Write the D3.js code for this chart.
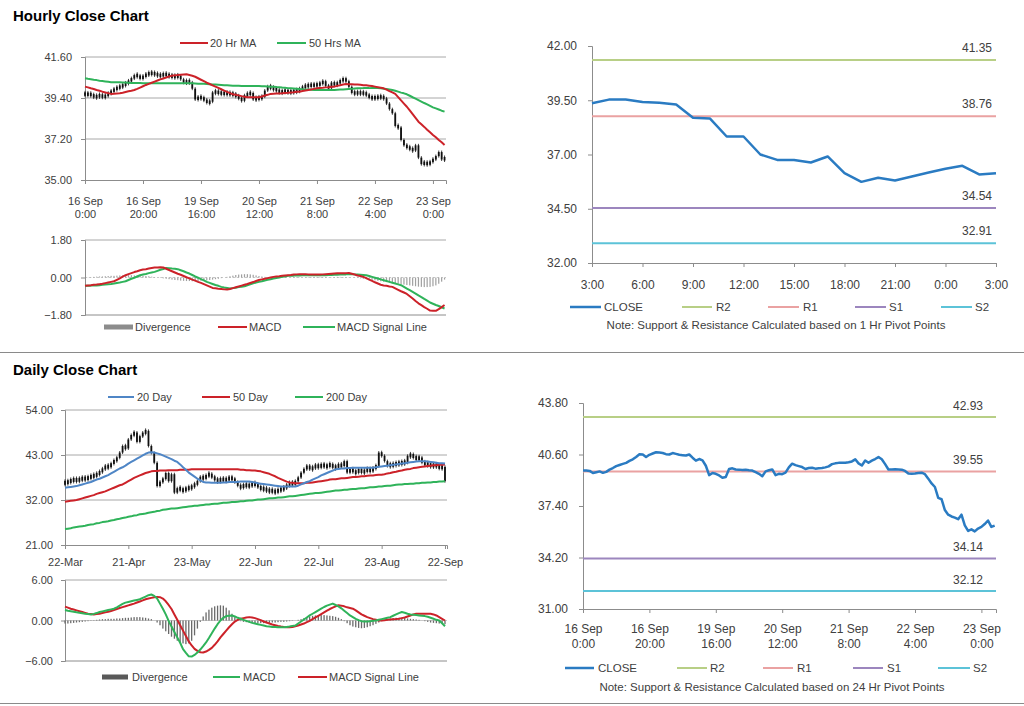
<!DOCTYPE html>
<html><head><meta charset="utf-8">
<script src="https://cdn.jsdelivr.net/npm/d3@7"></script>
<style>
body{margin:0;background:#fff;}
svg text{font-family:Arial,"Liberation Sans",sans-serif;}
</style></head><body>
<svg id="c" width="1024" height="706"></svg>
<script>
// ---------------- DATA ----------------
const hourTickIdx = [0,20,40,60,80,100,120];
const hourTickLabels = ["16 Sep\n0:00","16 Sep\n20:00","19 Sep\n16:00","20 Sep\n12:00","21 Sep\n8:00","22 Sep\n4:00","23 Sep\n0:00"];
const hClose = [39.61,39.60,39.58,39.45,39.50,39.55,39.46,39.52,39.66,39.76,39.88,39.95,40.02,40.08,40.20,40.30,40.45,40.62,40.60,40.44,
40.58,40.66,40.74,40.72,40.69,40.62,40.60,40.69,40.64,40.58,40.56,40.54,40.60,40.40,40.22,40.32,40.24,39.90,39.32,39.45,
39.40,39.30,39.15,39.20,39.70,39.74,39.67,39.66,39.64,39.65,39.62,39.60,39.50,39.40,39.25,39.55,39.62,39.67,39.32,39.40,
39.38,39.47,39.80,40.03,39.94,39.88,39.82,39.70,39.76,39.78,39.72,39.74,39.76,39.80,39.86,40.00,40.05,40.08,40.09,40.09,
40.12,40.17,40.30,40.05,39.92,40.23,40.09,40.22,40.32,40.44,40.30,40.00,39.67,39.67,39.68,39.67,39.66,39.58,39.42,39.41,
39.42,39.45,39.47,39.38,39.10,38.80,38.58,37.90,37.82,37.15,36.86,36.75,36.68,36.58,36.86,36.20,35.85,35.95,35.82,36.00,
36.10,36.28,36.50,36.10,36.18];
const hMA20 = [40.01,39.97,39.92,39.88,39.83,39.79,39.74,39.70,39.66,39.62,39.63,39.64,39.65,39.68,39.72,39.76,39.79,39.83,39.89,39.96,
40.03,40.10,40.16,40.22,40.28,40.34,40.40,40.45,40.50,40.55,40.60,40.62,40.63,40.65,40.66,40.67,40.63,40.59,40.54,40.46,
40.38,40.30,40.22,40.15,40.08,40.01,39.94,39.87,39.80,39.73,39.66,39.60,39.57,39.54,39.50,39.47,39.44,39.44,39.44,39.44,
39.44,39.48,39.53,39.57,39.62,39.63,39.64,39.64,39.65,39.67,39.68,39.70,39.71,39.73,39.74,39.77,39.80,39.83,39.86,39.89,
39.92,39.94,39.95,39.97,39.98,40.00,40.01,40.05,40.08,40.12,40.15,40.14,40.14,40.13,40.12,40.11,40.09,40.08,40.06,40.04,
40.01,39.98,39.95,39.92,39.85,39.77,39.70,39.62,39.45,39.27,39.10,38.93,38.73,38.53,38.33,38.13,37.99,37.85,37.70,37.56,
37.42,37.29,37.15,37.02,36.88];
const hMA50 = [40.46,40.43,40.41,40.38,40.36,40.33,40.31,40.29,40.27,40.25,40.24,40.24,40.24,40.23,40.23,40.22,40.21,40.21,40.20,40.20,
40.19,40.19,40.19,40.19,40.19,40.19,40.19,40.19,40.19,40.19,40.19,40.19,40.19,40.19,40.19,40.19,40.19,40.19,40.18,40.17,
40.16,40.16,40.15,40.14,40.13,40.12,40.11,40.10,40.09,40.08,40.07,40.06,40.06,40.06,40.05,40.05,40.05,40.05,40.04,40.04,
40.04,40.03,40.03,40.02,40.01,40.01,39.99,39.98,39.96,39.95,39.93,39.92,39.91,39.90,39.88,39.87,39.86,39.85,39.84,39.83,
39.83,39.83,39.83,39.83,39.83,39.83,39.83,39.84,39.85,39.86,39.87,39.88,39.89,39.91,39.92,39.92,39.93,39.93,39.93,39.94,
39.94,39.94,39.92,39.90,39.88,39.86,39.83,39.79,39.74,39.69,39.65,39.60,39.52,39.44,39.37,39.29,39.21,39.13,39.06,38.98,
38.90,38.84,38.78,38.72,38.67];
const hMACD = [-0.40,-0.38,-0.37,-0.35,-0.34,-0.32,-0.30,-0.27,-0.24,-0.21,-0.18,-0.11,-0.04,0.04,0.11,0.16,0.21,0.26,0.30,0.35,
0.38,0.40,0.43,0.46,0.48,0.48,0.49,0.48,0.42,0.36,0.30,0.24,0.18,0.13,0.07,0.01,-0.04,-0.10,-0.15,-0.21,
-0.26,-0.32,-0.38,-0.44,-0.50,-0.52,-0.54,-0.55,-0.57,-0.58,-0.55,-0.51,-0.47,-0.43,-0.39,-0.35,-0.31,-0.26,-0.22,-0.17,
-0.12,-0.09,-0.06,-0.03,0.00,0.03,0.05,0.06,0.08,0.10,0.11,0.12,0.14,0.15,0.16,0.16,0.16,0.15,0.15,0.15,
0.14,0.14,0.15,0.16,0.17,0.18,0.19,0.20,0.20,0.21,0.21,0.22,0.18,0.14,0.10,0.07,0.03,-0.03,-0.10,-0.16,
-0.23,-0.29,-0.35,-0.38,-0.40,-0.43,-0.45,-0.52,-0.59,-0.66,-0.72,-0.79,-0.90,-1.01,-1.13,-1.24,-1.33,-1.42,-1.50,-1.59,
-1.60,-1.60,-1.52,-1.42,-1.32];
const hSignal = [-0.40,-0.39,-0.39,-0.38,-0.38,-0.37,-0.35,-0.34,-0.32,-0.31,-0.29,-0.26,-0.24,-0.21,-0.18,-0.12,-0.06,-0.01,0.05,0.11,
0.14,0.17,0.21,0.24,0.27,0.32,0.37,0.41,0.46,0.45,0.43,0.42,0.40,0.35,0.30,0.24,0.19,0.12,0.05,-0.01,
-0.08,-0.14,-0.21,-0.26,-0.31,-0.36,-0.40,-0.45,-0.48,-0.50,-0.53,-0.51,-0.49,-0.46,-0.44,-0.42,-0.37,-0.33,-0.28,-0.24,
-0.21,-0.18,-0.14,-0.11,-0.08,-0.05,-0.02,0.00,0.03,0.05,0.08,0.09,0.09,0.10,0.10,0.11,0.11,0.11,0.11,0.11,
0.11,0.11,0.11,0.11,0.12,0.12,0.13,0.13,0.14,0.15,0.15,0.16,0.16,0.15,0.14,0.13,0.12,0.11,0.07,0.03,
-0.01,-0.05,-0.09,-0.13,-0.17,-0.21,-0.25,-0.29,-0.33,-0.37,-0.45,-0.53,-0.61,-0.69,-0.77,-0.86,-0.94,-1.03,-1.11,-1.20,
-1.26,-1.32,-1.37,-1.43,-1.49];
const hDiv = [0.00,0.01,0.02,0.03,0.04,0.05,0.05,0.06,0.07,0.08,0.08,0.09,0.10,0.10,0.11,0.11,0.11,0.10,0.10,0.09,
0.08,0.07,0.06,0.04,0.02,0.00,-0.02,-0.04,-0.06,-0.08,-0.10,-0.12,-0.13,-0.15,-0.16,-0.17,-0.17,-0.18,-0.18,-0.17,
-0.16,-0.15,-0.14,-0.12,-0.10,-0.08,-0.06,-0.03,0.00,0.03,0.06,0.09,0.12,0.14,0.15,0.16,0.16,0.15,0.13,0.10,
0.07,0.05,0.03,0.02,0.02,0.02,0.02,0.03,0.02,0.01,0.00,-0.01,-0.02,-0.02,-0.01,0.00,0.01,0.02,0.02,0.03,
0.03,0.03,0.02,0.02,0.01,0.01,0.02,0.03,0.03,0.02,0.02,0.01,0.00,-0.01,-0.02,-0.04,-0.06,-0.08,-0.10,-0.12,
-0.14,-0.16,-0.18,-0.20,-0.22,-0.24,-0.26,-0.28,-0.30,-0.32,-0.34,-0.36,-0.38,-0.40,-0.42,-0.44,-0.45,-0.46,-0.46,-0.45,
-0.42,-0.38,-0.30,-0.20,-0.10];

const pivotHours = ["3:00","4:00","5:00","6:00","7:00","8:00","9:00","10:00","11:00","12:00","13:00","14:00","15:00","16:00","17:00","18:00","19:00","20:00","21:00","22:00","23:00","0:00","1:00","2:00","3:00"];
const pivotTickIdx = [0,3,6,9,12,15,18,21,24];
const pivotClose = [39.36,39.53,39.53,39.42,39.38,39.30,38.69,38.66,37.83,37.83,37.00,36.75,36.75,36.63,36.91,36.14,35.74,35.93,35.80,35.99,36.17,36.34,36.48,36.08,36.14];
const pivot1h = {R2:41.35, R1:38.76, S1:34.54, S2:32.91};
const pivot24h = {R2:42.93, R1:39.55, S1:34.14, S2:32.12};
const pivotKeys = ["R2","R1","S1","S2"];

const dayTickIdx = [0,22,44,66,88,110,132];
const dayTickLabels = ["22-Mar","21-Apr","23-May","22-Jun","22-Jul","23-Aug","22-Sep"];
const dClose = [36.2,36.5,36.8,37.0,36.8,37.1,37.3,37.2,37.5,37.8,38.0,38.3,38.9,39.6,40.3,40.0,41.0,41.6,42.3,43.6,
45.2,44.6,46.8,47.9,48.5,46.2,47.6,48.4,48.9,45.2,43.5,41.1,35.4,36.5,37.1,38.6,36.6,38.3,33.8,34.9,
34.6,34.2,35.0,34.8,35.4,35.8,36.6,37.7,37.2,38.1,38.3,37.6,37.0,36.6,37.2,36.8,37.1,37.4,37.2,36.4,
35.5,35.0,35.8,35.4,35.6,36.0,35.8,35.3,34.6,34.9,34.2,34.4,34.1,34.0,34.5,34.6,35.0,35.6,36.2,35.8,
36.6,37.5,38.7,39.6,40.3,39.6,39.9,40.5,40.0,40.7,40.2,40.3,40.8,39.9,40.1,40.6,40.3,41.5,38.7,39.6,
38.9,38.7,39.5,38.7,39.2,39.5,39.1,39.8,40.3,43.6,42.8,41.5,40.3,40.7,40.5,41.1,40.8,41.3,41.1,42.8,
43.0,42.5,42.0,42.4,41.1,40.8,40.7,40.3,40.6,40.3,39.9,40.1,36.6];
const dMA20 = [35.0,35.1,35.2,35.3,35.4,35.6,35.8,36.0,36.2,36.4,36.7,37.0,37.2,37.5,37.8,38.1,38.5,38.9,39.3,39.7,
40.0,40.4,40.9,41.3,41.7,42.1,42.5,42.9,43.3,43.6,43.7,43.6,43.4,43.2,42.9,42.6,42.3,42.0,41.6,41.3,
40.7,40.0,39.4,38.7,38.2,37.7,37.2,36.8,36.4,36.3,36.3,36.2,36.2,36.2,36.2,36.3,36.3,36.4,36.4,36.4,
36.4,36.5,36.5,36.5,36.5,36.4,36.3,36.1,36.0,35.9,35.8,35.7,35.6,35.5,35.4,35.3,35.3,35.3,35.3,35.3,
35.3,35.5,35.8,36.1,36.4,36.6,37.0,37.3,37.6,38.0,38.3,38.6,38.9,39.2,39.5,39.6,39.7,39.7,39.8,39.8,
39.9,39.9,39.9,39.9,39.9,39.9,39.9,39.9,40.0,40.1,40.2,40.3,40.4,40.5,40.6,40.7,40.8,40.9,41.0,41.1,
41.2,41.3,41.4,41.5,41.5,41.5,41.4,41.3,41.2,41.1,41.0,41.0,40.9];
const dMA50 = [31.6,31.7,31.8,31.9,32.0,32.2,32.4,32.6,32.8,33.0,33.2,33.5,33.7,33.9,34.1,34.4,34.7,35.0,35.3,35.6,
35.8,36.2,36.6,37.0,37.4,37.7,38.0,38.3,38.6,38.8,39.0,39.1,39.1,39.2,39.2,39.2,39.3,39.3,39.3,39.3,
39.4,39.4,39.4,39.4,39.5,39.5,39.5,39.5,39.5,39.5,39.5,39.5,39.5,39.5,39.5,39.5,39.5,39.5,39.5,39.5,
39.5,39.4,39.4,39.3,39.3,39.2,39.2,39.1,39.0,38.8,38.6,38.4,38.1,37.8,37.4,37.1,36.8,36.5,36.3,36.2,
36.1,36.1,36.1,36.1,36.2,36.2,36.3,36.4,36.5,36.6,36.7,36.8,37.0,37.1,37.1,37.2,37.3,37.3,37.4,37.5,
37.6,37.6,37.7,37.8,37.8,37.9,38.0,38.0,38.1,38.2,38.2,38.3,38.5,38.6,38.8,38.9,39.1,39.2,39.4,39.5,
39.6,39.8,39.9,40.0,40.1,40.2,40.3,40.4,40.5,40.5,40.6,40.6,40.7];
const dMA200 = [24.9,25.0,25.1,25.3,25.4,25.5,25.6,25.7,25.9,26.0,26.1,26.3,26.4,26.6,26.7,26.8,27.0,27.1,27.3,27.4,
27.6,27.7,27.9,28.0,28.2,28.3,28.5,28.6,28.7,28.9,29.0,29.1,29.3,29.4,29.6,29.7,29.8,29.9,29.9,30.0,
30.1,30.2,30.3,30.4,30.5,30.6,30.6,30.7,30.8,30.9,30.9,31.0,31.1,31.1,31.2,31.3,31.3,31.4,31.5,31.5,
31.6,31.7,31.7,31.8,31.9,31.9,32.0,32.1,32.1,32.2,32.3,32.4,32.4,32.5,32.6,32.6,32.7,32.8,32.9,32.9,
33.0,33.1,33.2,33.3,33.4,33.5,33.6,33.7,33.7,33.8,33.9,34.0,34.1,34.2,34.3,34.3,34.4,34.5,34.5,34.6,
34.7,34.7,34.8,34.9,34.9,35.0,35.1,35.1,35.2,35.3,35.3,35.4,35.5,35.5,35.6,35.7,35.8,35.8,35.9,35.9,
36.0,36.0,36.1,36.1,36.2,36.2,36.3,36.3,36.4,36.4,36.5,36.5,36.6];
const dMACD = [1.55,1.45,1.38,1.30,1.22,1.15,1.08,1.00,0.95,0.90,0.98,1.10,1.25,1.35,1.45,1.55,1.65,1.75,1.95,2.20,
2.45,2.65,2.75,2.85,2.95,3.05,3.15,3.35,3.55,3.75,3.85,3.65,3.25,2.50,1.75,0.90,-0.05,-0.90,-1.70,-2.50,
-3.30,-4.25,-4.80,-5.30,-5.35,-5.10,-4.75,-4.30,-3.80,-3.25,-2.60,-1.90,-1.20,-0.55,0.00,0.40,0.65,0.70,0.75,0.60,
0.40,0.25,0.10,-0.05,-0.20,-0.35,-0.45,-0.55,-0.65,-0.75,-0.85,-0.90,-0.95,-0.95,-1.00,-1.00,-1.00,-0.95,-0.90,-0.80,
-0.75,-0.45,-0.15,0.15,0.45,0.75,1.00,1.25,1.50,1.75,2.00,2.20,2.35,2.50,2.30,2.10,1.80,1.45,1.10,0.75,
0.50,0.25,0.05,-0.10,-0.15,-0.15,-0.10,-0.05,0.00,0.10,0.20,0.30,0.40,0.50,0.70,0.90,1.10,1.25,1.15,1.00,
0.90,0.85,0.80,0.75,0.70,0.65,0.55,0.40,0.25,0.10,0.00,-0.40,-0.85];
const dSignal = [2.05,1.90,1.75,1.62,1.50,1.38,1.25,1.12,1.00,0.95,0.90,0.95,1.00,1.10,1.20,1.30,1.42,1.55,1.70,1.85,
1.98,2.10,2.24,2.37,2.50,2.66,2.82,2.98,3.15,3.25,3.35,3.45,3.50,3.45,3.25,2.85,2.30,1.70,0.90,0.10,
-0.70,-1.50,-2.30,-3.10,-3.70,-4.20,-4.50,-4.70,-4.75,-4.60,-4.35,-4.05,-3.60,-3.10,-2.50,-2.00,-1.50,-1.00,-0.55,-0.15,
0.10,0.25,0.35,0.45,0.50,0.45,0.35,0.20,0.05,-0.15,-0.30,-0.45,-0.60,-0.70,-0.80,-0.88,-0.95,-1.00,-1.00,-0.95,
-0.85,-0.75,-0.60,-0.45,-0.25,-0.05,0.20,0.45,0.70,0.95,1.20,1.45,1.70,1.90,2.10,2.25,2.20,2.10,1.95,1.85,
1.75,1.50,1.20,0.90,0.70,0.50,0.35,0.20,0.10,0.00,0.00,0.05,0.10,0.15,0.20,0.22,0.25,0.35,0.45,0.60,
0.75,0.90,1.00,1.00,1.00,1.00,1.00,1.00,0.90,0.75,0.50,0.25,0.00];
const dDiv = [-0.45,-0.45,-0.40,-0.35,-0.30,-0.25,-0.20,-0.15,-0.10,-0.05,0.05,0.10,0.15,0.20,0.20,0.25,0.25,0.25,0.30,0.30,
0.35,0.40,0.40,0.45,0.50,0.50,0.50,0.45,0.40,0.30,0.20,0.00,-0.30,-0.70,-1.20,-1.60,-2.00,-2.40,-2.70,-3.00,
-3.20,-3.40,-3.50,-3.40,-3.00,-2.20,-1.20,-0.20,0.60,1.20,1.60,1.90,2.10,2.20,2.25,2.20,1.90,1.50,1.00,0.50,
0.10,-0.10,-0.20,-0.25,-0.30,-0.35,-0.40,-0.40,-0.40,-0.40,-0.40,-0.35,-0.30,-0.30,-0.25,-0.20,-0.20,-0.15,-0.10,-0.05,
0.00,0.10,0.20,0.35,0.50,0.60,0.70,0.75,0.80,0.80,0.80,0.75,0.70,0.65,0.55,0.40,0.20,-0.10,-0.40,-0.70,
-0.90,-1.00,-1.10,-1.15,-1.10,-1.00,-0.85,-0.70,-0.50,-0.30,-0.10,0.10,0.20,0.30,0.35,0.40,0.40,0.40,0.35,0.30,
0.25,0.20,0.15,0.10,0.00,-0.10,-0.20,-0.30,-0.35,-0.40,-0.45,-0.50,-0.55];

// ---------------- DRAWING ----------------
const svg = d3.select("#c");
const TXT = "#404040", AX = "#8c8c8c", GRID = "#a8a8a8";
const RED = "#cc2229", GREEN = "#2fb35a", BLUE = "#4f86c6", CLOSEC = "#2a7bc2";
const PIV = {R2:"#b8cf86", R1:"#eaa2a2", S1:"#9c86be", S2:"#5cc3d8"};

function yAxis(y, x0, ticks, pad, fs){
  const g = svg.append("g").attr("transform",`translate(${x0},0)`)
    .call(d3.axisLeft(y).tickValues(ticks).tickSize(4).tickPadding(pad).tickFormat(d3.format(".2f")));
  g.select(".domain").attr("stroke",AX);
  g.selectAll(".tick line").attr("stroke",AX);
  g.selectAll("text").attr("fill",TXT).style("font-size",fs+"px").attr("font-family",null);
  return g;
}
function xAxis(x, yb, ticks, labels, off1, off2, fs){
  const g = svg.append("g").attr("transform",`translate(0,${yb})`)
    .call(d3.axisBottom(x).tickValues(ticks).tickSize(4).tickFormat((d,i)=>labels[i]));
  g.select(".domain").attr("stroke",AX);
  g.selectAll(".tick line").attr("stroke",AX);
  g.selectAll(".tick text").each(function(d,i){
    const t = d3.select(this); const parts = labels[i].split("\n");
    t.text(null).attr("y",null).attr("dy",null).attr("fill",TXT).style("font-size",fs+"px").attr("font-family",null);
    parts.forEach((p,k)=> t.append("tspan").attr("x",0).attr("y", k===0?off1:off2).text(p));
  });
  return g;
}
function grid(y, x0, x1, vals){
  svg.append("g").selectAll("line").data(vals).join("line")
    .attr("x1",x0).attr("x2",x1).attr("y1",d=>y(d)).attr("y2",d=>y(d))
    .attr("stroke",GRID).attr("stroke-width",1);
}
function line(x, y, arr, color, w){
  svg.append("path").datum(arr)
    .attr("d", d3.line().x((d,i)=>x(i)).y(d=>y(d)))
    .attr("fill","none").attr("stroke",color).attr("stroke-width",w).attr("stroke-linejoin","round");
}
function bars(x, y, arr, color, w){
  svg.append("g").selectAll("rect").data(arr).join("rect")
    .attr("x",(d,i)=>x(i)-w/2).attr("width",w)
    .attr("y",d=>Math.min(y(0),y(d))).attr("height",d=>Math.abs(y(d)-y(0)))
    .attr("fill",color);
}
function ohlc(x, y, arr, w, minH){
  const g = svg.append("g");
  arr.forEach((c,i)=>{
    const o = i===0 ? c : arr[i-1];
    let a = y(Math.max(o,c)), b = y(Math.min(o,c));
    if (b-a < minH){ const m=(a+b)/2; a=m-minH/2; b=m+minH/2; }
    g.append("rect").attr("x",x(i)-w/2).attr("y",a).attr("width",w).attr("height",b-a).attr("fill","#111");
    g.append("line").attr("x1",x(i)).attr("x2",x(i)).attr("y1",a-1.5).attr("y2",b+1.5).attr("stroke","#111").attr("stroke-width",0.8);
  });
}
function legend(items, yc, fs){
  items.forEach(it=>{
    if (it.type==="bar") svg.append("rect").attr("x",it.x1).attr("y",yc-2.5).attr("width",it.x2-it.x1).attr("height",5).attr("fill",it.color);
    else svg.append("line").attr("x1",it.x1).attr("x2",it.x2).attr("y1",yc).attr("y2",yc).attr("stroke",it.color).attr("stroke-width",it.w||2);
    svg.append("text").attr("x",it.tx).attr("y",yc+4).attr("fill",TXT).style("font-size",fs+"px").text(it.label);
  });
}
function title(t, x, y){
  svg.append("text").attr("x",x).attr("y",y).attr("font-weight","bold").style("font-size","15px").attr("fill","#000").text(t);
}

// titles and separators
title("Hourly Close Chart", 13, 21);
title("Daily Close Chart", 13, 375);
svg.append("line").attr("x1",0).attr("x2",1024).attr("y1",352.5).attr("y2",352.5).attr("stroke","#8a8a8a");
svg.append("line").attr("x1",0).attr("x2",1024).attr("y1",703.5).attr("y2",703.5).attr("stroke","#8a8a8a");

// ---- Panel 1: hourly price with MAs
{
  const x = d3.scaleLinear().domain([0,124.5]).range([85,446]);
  const y = d3.scaleLinear().domain([35,41.6]).range([180,57]);
  grid(y, 85, 446, [37.2,39.4,41.6]);
  yAxis(y, 85, [35,37.2,39.4,41.6], 9, 11);
  xAxis(x, 180, hourTickIdx, hourTickLabels, 25, 38, 11);
  ohlc(x, y, hClose, 1.8, 3.5);
  line(x, y, hMA50, GREEN, 2);
  line(x, y, hMA20, RED, 2);
  legend([
    {x1:180,x2:208,tx:210,color:RED,label:"20 Hr MA"},
    {x1:277,x2:306,tx:309,color:GREEN,label:"50 Hrs MA"}
  ], 43, 11);
}
// ---- Panel 2: hourly MACD
{
  const x = d3.scaleLinear().domain([0,124.5]).range([85,446]);
  const y = d3.scaleLinear().domain([-1.8,1.8]).range([315,240]);
  grid(y, 85, 446, [1.8]);
  svg.append("line").attr("x1",85).attr("x2",446).attr("y1",y(0)).attr("y2",y(0)).attr("stroke","#c8c8c8").attr("stroke-dasharray","2,2");
  yAxis(y, 85, [-1.8,0,1.8], 9, 11);
  svg.append("line").attr("x1",85).attr("x2",446).attr("y1",315).attr("y2",315).attr("stroke",AX);
  bars(x, y, hDiv, "#a0a0a0", 1.2);
  line(x, y, hSignal, GREEN, 2);
  line(x, y, hMACD, RED, 2);
  legend([
    {type:"bar",x1:104,x2:133,tx:135,color:"#8c8c8c",label:"Divergence"},
    {x1:218,x2:247,tx:249,color:RED,label:"MACD"},
    {x1:303,x2:335,tx:337,color:GREEN,label:"MACD Signal Line"}
  ], 327, 11);
}
// ---- Panel 3: 1hr pivot chart
{
  const x = d3.scaleLinear().domain([0,24]).range([592,996]);
  const y = d3.scaleLinear().domain([32,42]).range([263,46]);
  yAxis(y, 592, [32,34.5,37,39.5,42], 11, 12);
  xAxis(x, 263, pivotTickIdx, pivotTickIdx.map(i=>pivotHours[i]), 26, 40, 12);
  pivotKeys.forEach(k=>{
    svg.append("line").attr("x1",592).attr("x2",996).attr("y1",y(pivot1h[k])).attr("y2",y(pivot1h[k])).attr("stroke",PIV[k]).attr("stroke-width",2);
    svg.append("text").attr("x",992).attr("y",y(pivot1h[k])-8).attr("text-anchor","end").attr("fill",TXT).style("font-size","12px").text(pivot1h[k].toFixed(2));
  });
  line(x, y, pivotClose, CLOSEC, 2.5);
  legend([
    {x1:570,x2:601,tx:604,color:CLOSEC,label:"CLOSE",w:2.5},
    {x1:682,x2:712,tx:716,color:PIV.R2,label:"R2"},
    {x1:768,x2:799,tx:803,color:PIV.R1,label:"R1"},
    {x1:855,x2:886,tx:889,color:PIV.S1,label:"S1"},
    {x1:941,x2:972,tx:975,color:PIV.S2,label:"S2"}
  ], 307, 11.5);
  svg.append("text").attr("x",776).attr("y",329).attr("text-anchor","middle").attr("fill",TXT).style("font-size","11.5px")
    .text("Note: Support & Resistance Calculated based on 1 Hr Pivot Points");
}
// ---- Panel 4: daily price
{
  const x = d3.scaleLinear().domain([0,132.7]).range([65,447]);
  const y = d3.scaleLinear().domain([21,54]).range([545,410]);
  grid(y, 65, 447, [32,43,54]);
  yAxis(y, 65, [21,32,43,54], 8, 11);
  xAxis(x, 545, dayTickIdx, dayTickLabels, 21, 35, 11);
  ohlc(x, y, dClose, 1.8, 4);
  line(x, y, dMA200, GREEN, 2);
  line(x, y, dMA50, RED, 2);
  line(x, y, dMA20, BLUE, 2);
  legend([
    {x1:108,x2:134,tx:137,color:BLUE,label:"20 Day"},
    {x1:202,x2:230,tx:233,color:RED,label:"50 Day"},
    {x1:295,x2:323,tx:326,color:GREEN,label:"200 Day"}
  ], 397, 11);
}
// ---- Panel 5: daily MACD
{
  const x = d3.scaleLinear().domain([0,132.7]).range([65,447]);
  const y = d3.scaleLinear().domain([-6,6]).range([661,580]);
  grid(y, 65, 447, [6]);
  svg.append("line").attr("x1",65).attr("x2",447).attr("y1",y(0)).attr("y2",y(0)).attr("stroke","#c8c8c8");
  yAxis(y, 65, [-6,0,6], 8, 11);
  svg.append("line").attr("x1",65).attr("x2",447).attr("y1",661).attr("y2",661).attr("stroke",AX);
  bars(x, y, dDiv, "#6a6a6a", 1.3);
  line(x, y, dSignal, RED, 2);
  line(x, y, dMACD, GREEN, 2);
  legend([
    {type:"bar",x1:102,x2:128,tx:132,color:"#595959",label:"Divergence"},
    {x1:213,x2:240,tx:243,color:GREEN,label:"MACD"},
    {x1:298,x2:327,tx:329,color:RED,label:"MACD Signal Line"}
  ], 677, 11);
}
// ---- Panel 6: 24hr pivot chart
{
  const x = d3.scaleLinear().domain([0,124.4]).range([583,996]);
  const y = d3.scaleLinear().domain([31,43.8]).range([609,403]);
  yAxis(y, 583, [31,34.2,37.4,40.6,43.8], 11, 12);
  xAxis(x, 609, hourTickIdx, hourTickLabels, 24, 39, 12);
  pivotKeys.forEach(k=>{
    svg.append("line").attr("x1",583).attr("x2",996).attr("y1",y(pivot24h[k])).attr("y2",y(pivot24h[k])).attr("stroke",PIV[k]).attr("stroke-width",2);
    svg.append("text").attr("x",983).attr("y",y(pivot24h[k])-7).attr("text-anchor","end").attr("fill",TXT).style("font-size","12px").text(pivot24h[k].toFixed(2));
  });
  line(x, y, hClose, CLOSEC, 2.5);
  legend([
    {x1:565,x2:594,tx:598,color:CLOSEC,label:"CLOSE",w:2.5},
    {x1:677,x2:707,tx:710,color:PIV.R2,label:"R2"},
    {x1:763,x2:793,tx:797,color:PIV.R1,label:"R1"},
    {x1:853,x2:883,tx:887,color:PIV.S1,label:"S1"},
    {x1:938,x2:970,tx:973,color:PIV.S2,label:"S2"}
  ], 668, 11.5);
  svg.append("text").attr("x",772).attr("y",691).attr("text-anchor","middle").attr("fill",TXT).style("font-size","11.5px")
    .text("Note: Support & Resistance Calculated based on 24 Hr Pivot Points");
}
</script>
</body></html>
